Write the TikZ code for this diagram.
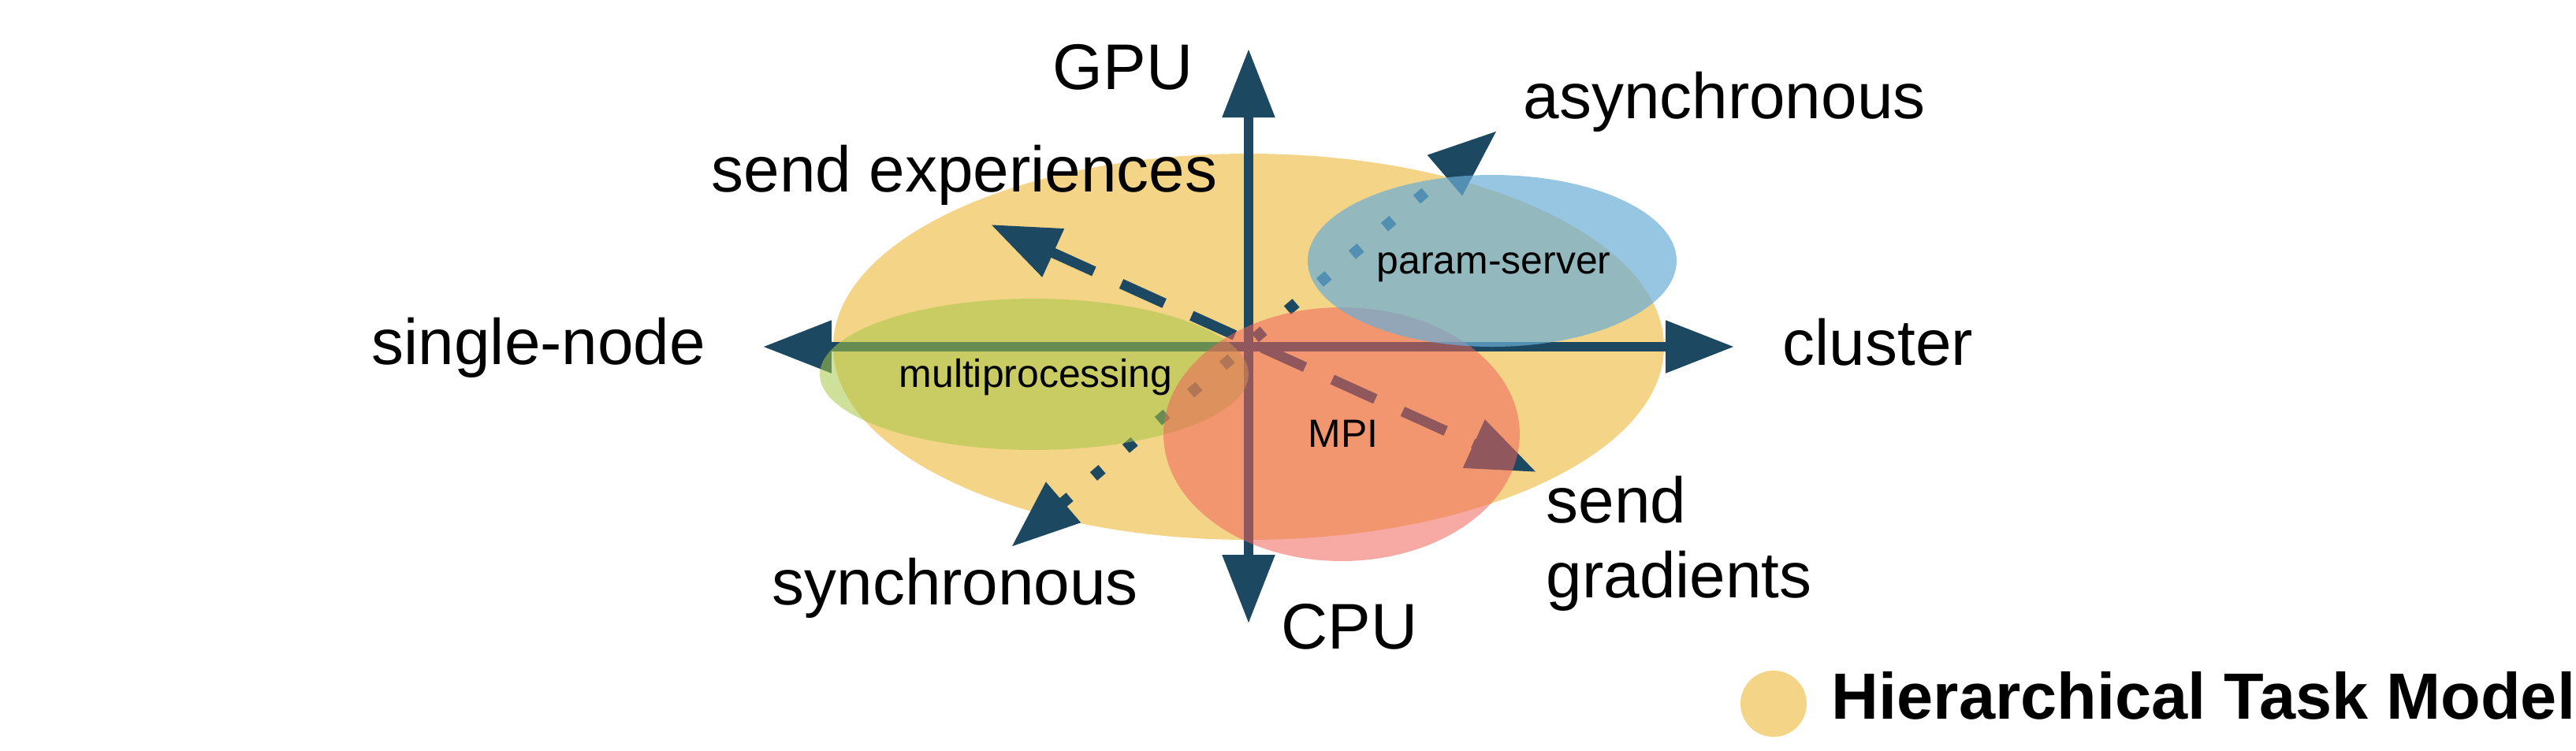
\documentclass[tikz,border=0pt]{standalone}
\usepackage{fontspec}
\setmainfont{Liberation Sans}
\usetikzlibrary{arrows.meta}
\definecolor{axisblue}{RGB}{28,72,98}
\definecolor{taskyellow}{RGB}{244,213,136}
\definecolor{psblue}{RGB}{107,174,214}
\definecolor{mpgreen}{RGB}{165,198,70}
\definecolor{mpired}{RGB}{240,100,90}

\begin{document}
\begin{tikzpicture}[x=1cm,y=1cm,
  >={Triangle[length=8.7mm,width=6.4mm]},
  axis/.style={draw=axisblue,line width=1.2mm,<->},
  lbl/.style={inner sep=0pt,anchor=base west,font=\fontsize{23.3}{27}\selectfont},
  small/.style={inner sep=0pt,anchor=base west,font=\fontsize{14.2}{17}\selectfont}]
  \useasboundingbox (-15.84,-5.12) rectangle (16.84,4.40);
  \fill[taskyellow] (0,0) ellipse [x radius=5.27,y radius=2.45];
  \coordinate (gpu) at (0,3.78);
  \coordinate (cpu) at (0,-3.51);
  \coordinate (single) at (-6.16,0);
  \coordinate (cluster) at (6.16,0);
  \coordinate (exp) at (-3.27,1.55);
  \coordinate (grad) at (3.65,-1.59);
  \coordinate (async) at (3.15,2.74);
  \coordinate (sync) at (-3.01,-2.54);
  \draw[axis] (single) -- (cluster);
  \draw[axis] (cpu) -- (gpu);
  \draw[axisblue,line width=1.3mm,<->,dash pattern=on 6mm off 3.8mm] (exp) -- (grad);
  \draw[axisblue,line width=1.4mm,<->,dash pattern=on 1.4mm off 4mm] (sync) -- (async);
  \fill[mpgreen,opacity=0.55] (-2.72,-0.35) ellipse [x radius=2.72,y radius=0.96];
  \fill[mpired,opacity=0.55] (1.18,-1.11) ellipse [x radius=2.26,y radius=1.61];
  \fill[psblue,opacity=0.7] (3.09,1.09) ellipse [x radius=2.34,y radius=1.09];
  \node[lbl,anchor=base east] (gpulabel) at (-0.70,3.27) {GPU};
  \node[lbl] (cpulabel) at (0.41,-3.83) {CPU};
  \node[lbl] (singlelabel) at (-11.13,-0.22) {single-node};
  \node[lbl] (clusterlabel) at (6.77,-0.23) {cluster};
  \node[lbl] (asynclabel) at (3.48,2.90) {asynchronous};
  \node[lbl] (synclabel) at (-6.05,-3.27) {synchronous};
  \node[lbl] (explabel) at (-6.82,1.97) {send experiences};
  \node[lbl,align=left] (gradlabel) at (3.77,-3.18) {send\\gradients};
  \node[small] (pslabel) at (1.62,0.93) {param-server};
  \node[small] (mplabel) at (-4.44,-0.51) {multiprocessing};
  \node[small] (mpilabel) at (0.75,-1.27) {MPI};
  \fill[taskyellow] (6.66,-4.53) circle (0.42);
  \node[lbl,font=\fontsize{23.6}{28}\selectfont\bfseries] (legend) at (7.39,-4.72) {Hierarchical Task Model};
\end{tikzpicture}
\end{document}
